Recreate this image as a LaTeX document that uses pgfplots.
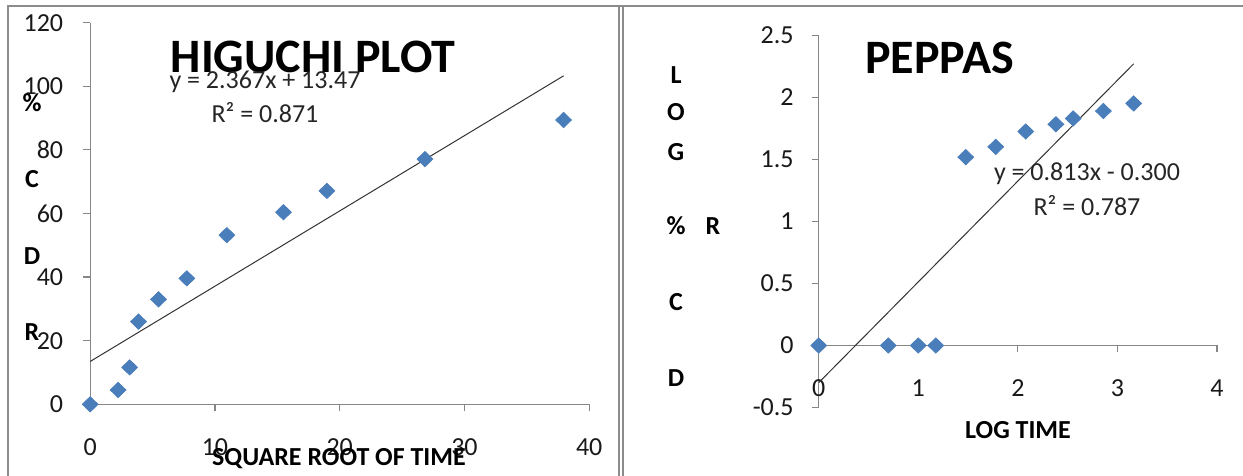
\documentclass[border=0pt]{standalone}
\usepackage{fontspec}
\setmainfont{Carlito}
\usepackage{pgfplots}
\pgfplotsset{compat=1.18}
\definecolor{axgray}{HTML}{868686}
\definecolor{markblue}{HTML}{4A7EBB}
\definecolor{framegray}{HTML}{8C8C8C}

\pgfplotstableread{
x y
0 0
2.236 4.5
3.162 11.6
3.873 26.0
5.477 33.0
7.746 39.6
10.954 53.2
15.492 60.4
18.974 67.1
26.833 77.1
37.947 89.4
}\higuchi

\pgfplotstableread{
x y
0 0
0.699 0
1.000 0
1.176 0
1.477 1.519
1.778 1.602
2.079 1.726
2.382 1.784
2.556 1.831
2.859 1.891
3.163 1.952
}\peppas

\pgfplotsset{
  common/.style={
    scale only axis, anchor=south west, clip=false,
    axis line style={axgray, line width=0.6pt, -},
    tick align=outside, major tick length=3.5pt,
    tick style={axgray, line width=0.6pt},
    ticklabel style={font=\fontsize{13}{15}\selectfont, text=black!90},
    /pgf/number format/assume math mode=true,
    hide obscured x ticks=false, hide obscured y ticks=false,
  },
  dia/.style={only marks, mark=diamond*, mark size=3.8pt,
    mark options={fill=markblue, draw=markblue, xscale=1.38}},
}

\begin{document}
\begin{tikzpicture}
\begin{scope}[x=0.5pt,y=0.5pt]
\path[use as bounding box] (0,0) rectangle (1243,476);
\draw[framegray, line width=1pt] (8.3,0) -- (8.3,470) -- (1243,470);
\draw[framegray, line width=1pt] (619.2,0) -- (619.2,470);
\draw[framegray, line width=1pt] (622.5,0) -- (622.5,470);
\end{scope}

\begin{axis}[common, at={(45.1pt,35.85pt)}, width=249.5pt, height=190.8pt,
  xmin=0, xmax=40, ymin=0, ymax=120,
  axis lines*=left,
  xtick={0,10,20,30,40}, ytick={0,20,40,60,80,100,120},
  xticklabel style={yshift=-10pt}, yticklabel style={xshift=-6.5pt}]
\addplot[black!80, line width=0.5pt, no marks] coordinates {(0,13.47) (37.947,103.29)};
\addplot[dia] table[x=x,y=y] {\higuchi};
\end{axis}

\begin{axis}[common, at={(409.35pt,34.25pt)}, width=199.15pt, height=186pt,
  xmin=0, xmax=4, ymin=-0.5, ymax=2.5,
  axis x line*=middle, axis y line*=left,
  xtick={0,1,2,3,4}, ytick={-0.5,0,0.5,1,1.5,2,2.5},
  yticklabel style={/pgf/number format/fixed, xshift=-5.5pt},
  xticklabel style={yshift=-10pt}]
\addplot[black!80, line width=0.5pt, no marks] coordinates {(0,-0.300) (3.163,2.2715)};
\addplot[dia] table[x=x,y=y] {\peppas};
\end{axis}

\begin{scope}[x=0.5pt,y=0.5pt,every node/.style={inner sep=0pt}]
\node[font=\fontsize{24}{27}\selectfont\bfseries] at (313,419) {HIGUCHI PLOT};
\node[font=\fontsize{24}{27}\selectfont\bfseries] at (939.5,418) {PEPPAS};
\node[font=\fontsize{13}{15}\selectfont, text=black!85] at (265,394) {y = 2.367x + 13.47};
\node[font=\fontsize{13}{15}\selectfont, text=black!85] at (265,363) {R² = 0.871};
\node[font=\fontsize{13}{15}\selectfont, text=black!85] at (1087,302) {y = 0.813x - 0.300};
\node[font=\fontsize{13}{15}\selectfont, text=black!85] at (1087,270) {R² = 0.787};
\node[font=\fontsize{13}{15}\selectfont\bfseries] at (339,17) {SQUARE ROOT OF TIME};
\node[font=\fontsize{13}{15}\selectfont\bfseries] at (1018,46) {LOG TIME};
\foreach \t/\x/\y in {\%/32/373, C/32/297, D/32/220, R/32/144,
  L/676/401, O/676/364, G/676/324, \%/676/250, R/713/250, C/676/174, D/676/98}
  \node[font=\fontsize{13}{15}\selectfont\bfseries] at (\x,\y) {\t};
\end{scope}
\end{tikzpicture}
\end{document}
